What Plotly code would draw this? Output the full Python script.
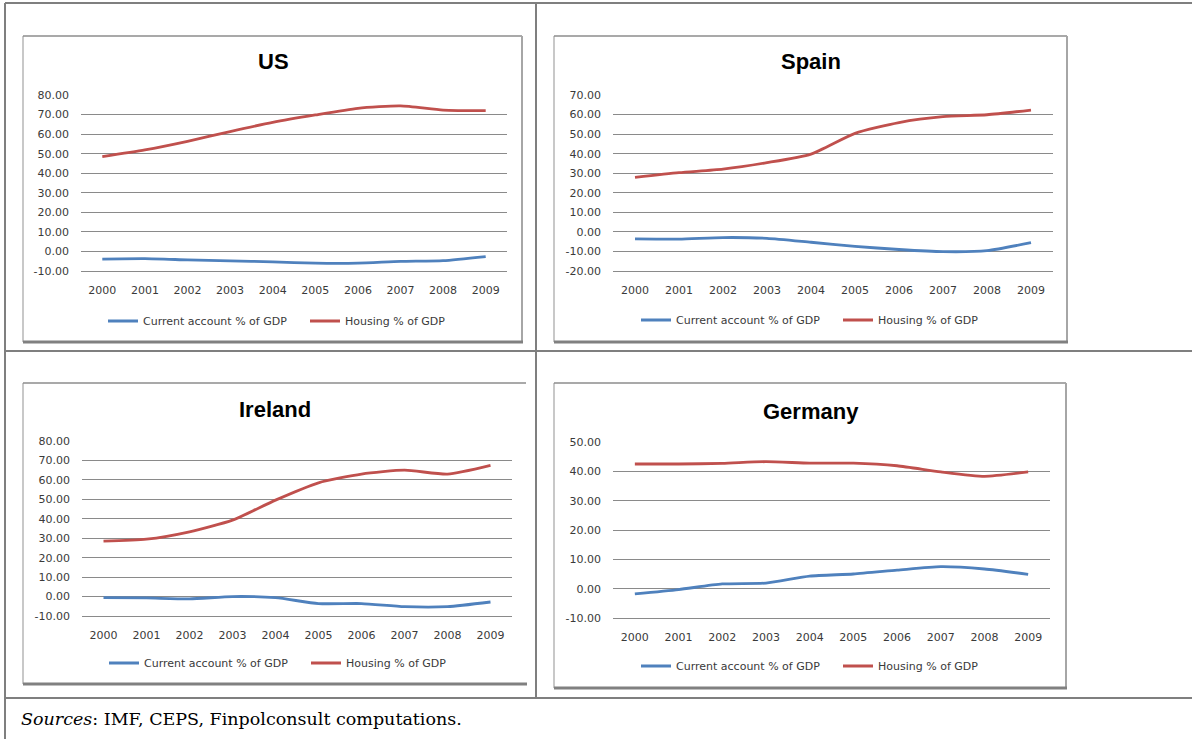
import plotly.graph_objects as go

# ---------------- data ----------------
years = ['2000', '2001', '2002', '2003', '2004', '2005', '2006', '2007', '2008', '2009']

us_current_account = [-3.9, -3.7, -4.3, -4.8, -5.3, -6.0, -6.0, -5.1, -4.7, -2.6]
us_housing = [48.5, 51.9, 56.3, 61.3, 66.0, 69.8, 73.2, 74.4, 72.3, 72.0]

spain_current_account = [-3.6, -3.7, -2.9, -3.3, -5.3, -7.4, -9.0, -10.1, -9.6, -5.5]
spain_housing = [27.9, 30.3, 32.1, 35.4, 39.8, 50.4, 55.9, 58.9, 59.9, 62.3]

ireland_current_account = [-0.5, -0.7, -1.2, 0.0, -0.6, -3.6, -3.6, -5.2, -5.2, -2.8]
ireland_housing = [28.5, 29.5, 33.3, 39.3, 49.6, 58.5, 63.0, 65.0, 63.0, 67.5]

germany_current_account = [-1.8, -0.3, 1.6, 1.9, 4.3, 5.0, 6.3, 7.5, 6.7, 4.9]
germany_housing = [42.5, 42.5, 42.7, 43.3, 42.8, 42.8, 41.9, 39.8, 38.3, 39.8]

us_ticks = [-10, 0, 10, 20, 30, 40, 50, 60, 70, 80]
spain_ticks = [-20, -10, 0, 10, 20, 30, 40, 50, 60, 70]
ireland_ticks = [-10, 0, 10, 20, 30, 40, 50, 60, 70, 80]
germany_ticks = [-10, 0, 10, 20, 30, 40, 50]

titles = ['US', 'Spain', 'Ireland', 'Germany']
series_names = ['Current account % of GDP', 'Housing % of GDP']
source_text = '<i>Sources</i>: IMF, CEPS, Finpolconsult computations.'

# ---------------- layout helpers ----------------
W, H = 1192, 739


def fx(px):
    return px / W


def fy(py):
    return 1 - py / H


BLUE = '#4F81BD'
RED = '#C0504D'
GRID = '#8a8a8a'
TICKC = '#3a3a3a'
TICKFONT = dict(family='DejaVu Sans', size=11, color=TICKC)

panels = [
    dict(title=titles[0], ca=us_current_account, hs=us_housing, ticks=us_ticks,
         plot=(81, 507, 95, 271), box=(23, 36, 522, 342), leg=(103, 321), tit=(273, 62), right=True),
    dict(title=titles[1], ca=spain_current_account, hs=spain_housing, ticks=spain_ticks,
         plot=(613, 1053, 95, 271), box=(554, 36, 1067, 342), leg=(636, 320), tit=(811, 62), right=True),
    dict(title=titles[2], ca=ireland_current_account, hs=ireland_housing, ticks=ireland_ticks,
         plot=(82, 512, 441, 616), box=(23, 383, 526, 684), leg=(104, 663), tit=(275, 409), right=False),
    dict(title=titles[3], ca=germany_current_account, hs=germany_housing, ticks=germany_ticks,
         plot=(613, 1050, 442, 618), box=(554, 383, 1066, 688), leg=(636, 666), tit=(811, 411), right=True),
]

fig = go.Figure()
shapes = []
annotations = []

for i, p in enumerate(panels):
    s = '' if i == 0 else str(i + 1)
    leg = 'legend' if i == 0 else f'legend{i + 1}'
    fig.add_trace(go.Scatter(x=years, y=p['ca'], name=series_names[0], mode='lines',
                             line=dict(color=BLUE, width=2.8, shape='spline', smoothing=0.6),
                             xaxis='x' + s, yaxis='y' + s, legend=leg, hoverinfo='skip'))
    fig.add_trace(go.Scatter(x=years, y=p['hs'], name=series_names[1], mode='lines',
                             line=dict(color=RED, width=2.8, shape='spline', smoothing=0.6),
                             xaxis='x' + s, yaxis='y' + s, legend=leg, hoverinfo='skip'))
    x0, x1, y0, y1 = p['plot']
    t = p['ticks']
    fig.layout['xaxis' + s] = dict(domain=[fx(x0), fx(x1)], anchor='y' + s, type='category',
                                   range=[-0.5, 9.5], showgrid=False, zeroline=False,
                                   showline=True, linecolor=GRID, linewidth=1, ticks='',
                                   tickfont=TICKFONT, ticklabelstandoff=9, fixedrange=True,
                                   automargin=False)
    fig.layout['yaxis' + s] = dict(domain=[fy(y1), fy(y0)], anchor='x' + s,
                                   range=[t[0], t[-1]], tickvals=t,
                                   ticktext=[f'{v:.2f}' for v in t],
                                   showgrid=True, gridcolor=GRID, gridwidth=1, zeroline=False,
                                   showline=False, ticks='', tickfont=TICKFONT,
                                   ticklabelstandoff=11, fixedrange=True, automargin=False)
    fig.layout[leg] = dict(orientation='h', x=fx(p['leg'][0]), y=fy(p['leg'][1]),
                           xanchor='left', yanchor='middle', bgcolor='rgba(0,0,0,0)',
                           font=dict(family='DejaVu Sans', size=11, color=TICKC),
                           itemwidth=30, tracegroupgap=0, entrywidth=157, entrywidthmode='pixels',
                           itemclick=False, itemdoubleclick=False)
    # chart frame
    bx0, by0, bx1, by1 = p['box']
    shapes.append(dict(type='line', xref='paper', yref='paper', x0=fx(bx0), x1=fx(bx0),
                       y0=fy(by0), y1=fy(by1), line=dict(color='#c8c8c8', width=2)))
    shapes.append(dict(type='line', xref='paper', yref='paper', x0=fx(bx0), x1=fx(bx1),
                       y0=fy(by0), y1=fy(by0), line=dict(color='#8c8c8c', width=1.5)))
    if p['right']:
        shapes.append(dict(type='line', xref='paper', yref='paper', x0=fx(bx1), x1=fx(bx1),
                           y0=fy(by0), y1=fy(by1), line=dict(color='#a6a6a6', width=2)))
    shapes.append(dict(type='line', xref='paper', yref='paper', x0=fx(bx0), x1=fx(bx1 + 1),
                       y0=fy(by1), y1=fy(by1), line=dict(color='#808080', width=3)))
    annotations.append(dict(text=p['title'], xref='paper', yref='paper', x=fx(p['tit'][0]),
                            y=fy(p['tit'][1]), xanchor='center', yanchor='middle', showarrow=False,
                            font=dict(family='Liberation Sans', size=22, color='#000000', weight='bold')))

# table borders
TB = '#7f7f7f'
for (a, b, c, d) in [(5, 3, 1192, 3), (5, 351, 1192, 351), (5, 698, 1192, 698),
                     (5, 3, 5, 739), (536, 3, 536, 698)]:
    shapes.append(dict(type='line', xref='paper', yref='paper', x0=fx(a), x1=fx(c),
                       y0=fy(b), y1=fy(d), line=dict(color=TB, width=2)))

annotations.append(dict(text=source_text, xref='paper', yref='paper', x=fx(19), y=fy(719),
                        xanchor='left', yanchor='middle', showarrow=False,
                        font=dict(family='DejaVu Serif', size=17.5, color='#000000')))

fig.update_layout(width=W, height=H,
                  margin=dict(l=0, r=0, t=0, b=0, pad=0, autoexpand=False),
                  paper_bgcolor='white', plot_bgcolor='white',
                  shapes=shapes, annotations=annotations, showlegend=True)

fig.write_html('out.html', config={'displayModeBar': False},
               post_script=("document.body.style.margin='0';"
                            "document.body.style.overflow='hidden';"
                            "document.documentElement.style.overflow='hidden';"
                            "var g=document.getElementById('{plot_id}');"
                            "g.style.position='fixed';g.style.top='0';g.style.left='0';"))
